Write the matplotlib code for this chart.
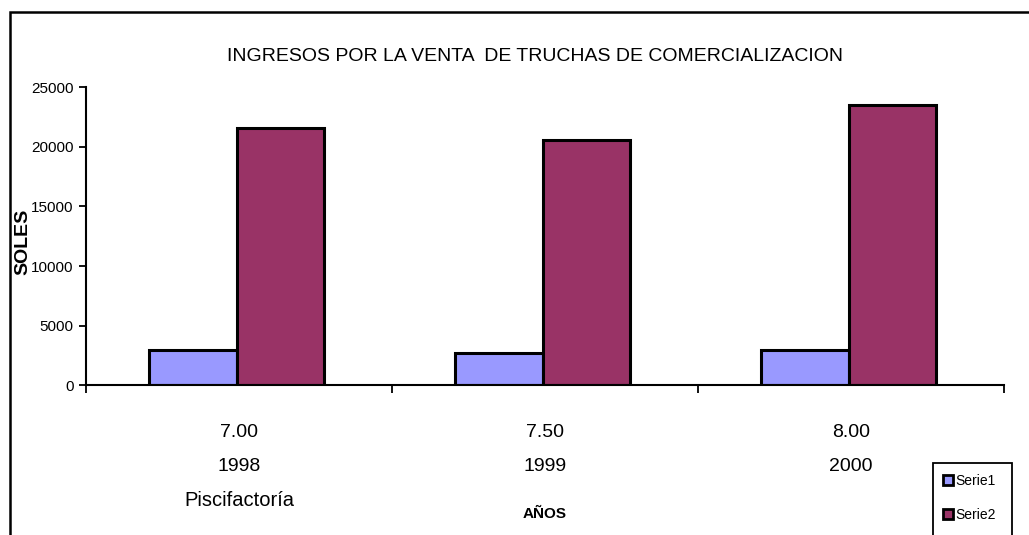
import matplotlib
matplotlib.use("Agg")
import matplotlib.pyplot as plt
from matplotlib.lines import Line2D
from matplotlib.patches import Rectangle
import numpy as np

plt.rcParams['font.family'] = ['Liberation Sans', 'DejaVu Sans']

prices = ["7.00", "7.50", "8.00"]
years = ["1998", "1999", "2000"]
group_label = "Piscifactoría"
serie1 = [2920, 2710, 2930]
serie2 = [21620, 20540, 23520]
series_names = ["Serie1", "Serie2"]
colors = ["#9999FF", "#993366"]
yticks = [0, 5000, 10000, 15000, 20000, 25000]
title = "INGRESOS POR LA VENTA  DE TRUCHAS DE COMERCIALIZACION"

W, H = 1029, 535
fig = plt.figure(figsize=(W / 100, H / 100), dpi=100)
fig.patch.set_facecolor("white")

# outer chart frame (extends beyond the image on right and bottom)
fig.patches.append(Rectangle((10 / W, -0.1), 1.2, 1 - 12 / H + 0.1, transform=fig.transFigure,
                             fill=False, edgecolor="black", linewidth=1.8, zorder=0))

ax = fig.add_axes([86 / W, 1 - 385.3 / H, (1004 - 86) / W, (385.3 - 87.3) / H])
x = np.arange(len(years))
bw = 0.285
b1 = ax.bar(x - bw / 2 - 0.008, serie1, bw, color=colors[0], edgecolor="black", linewidth=2.2, zorder=3)
b2 = ax.bar(x + bw / 2 - 0.008, serie2, bw, color=colors[1], edgecolor="black", linewidth=2.2, zorder=3)

ax.set_xlim(-0.5, len(years) - 0.5)
ax.set_ylim(0, 25000)
ax.set_yticks(yticks)
ax.set_yticklabels([str(v) for v in yticks], fontsize=11)
ax.set_xticks(np.arange(len(years) + 1) - 0.5)
ax.set_xticklabels([])
ax.tick_params(axis="y", direction="out", length=5, width=1.3, pad=4)
ax.tick_params(axis="x", direction="out", length=6, width=1.3)
for s in ["top", "right"]:
    ax.spines[s].set_visible(False)
for s in ["left", "bottom"]:
    ax.spines[s].set_linewidth(1.5)
    ax.spines[s].set_zorder(4)

tr = ax.get_xaxis_transform()
for i in range(len(years)):
    ax.text(x[i], -0.157, prices[i], transform=tr, ha="center", va="center", fontsize=14)
    ax.text(x[i], -0.271, years[i], transform=tr, ha="center", va="center", fontsize=14)
ax.text(x[0], -0.385, group_label, transform=tr, ha="center", va="center", fontsize=14.5)
ax.text(x[1], -0.432, "AÑOS", transform=tr, ha="center", va="center", fontsize=11, fontweight="bold")

fig.text(23 / W, 1 - 242 / H, "SOLES", rotation=90, ha="center", va="center",
         fontsize=14, fontweight="bold")
fig.text(535 / W, 1 - 57 / H, title, ha="center", va="center", fontsize=14)

# legend
fig.patches.append(Rectangle((933 / W, -0.1), (1012 - 933) / W, 1 - 462.5 / H + 0.1,
                             transform=fig.transFigure, fill=False, edgecolor="black",
                             linewidth=1.3, zorder=5))
handles = [Line2D([], [], linestyle="none", marker="s", markersize=7.5, markerfacecolor=c,
                  markeredgecolor="black", markeredgewidth=2.0) for c in colors]
fig.legend(handles, series_names, loc="upper left", bbox_to_anchor=(944 / W, 1 - 474 / H),
           frameon=False, fontsize=10, handlelength=0.6, handletextpad=0.2,
           labelspacing=1.45, borderpad=0, borderaxespad=0)

fig.savefig("out.png", dpi=100)
